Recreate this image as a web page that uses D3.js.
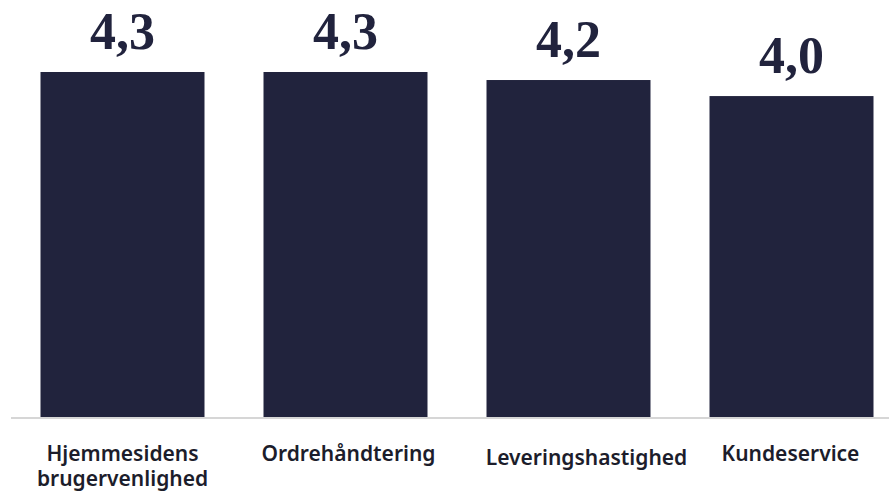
<!DOCTYPE html>
<html lang="da">
<head>
<meta charset="utf-8">
<script src="https://cdn.jsdelivr.net/npm/d3@7"></script>
<style>
  html, body { margin: 0; padding: 0; background: #ffffff; }
  svg { display: block; }
</style>
</head>
<body>
<svg id="chart" width="889" height="495"></svg>
<script>
// Gennemsnitlig vurdering pr. område
const categories = [
  ["Hjemmesidens", "brugervenlighed"],
  ["Ordrehåndtering"],
  ["Leveringshastighed"],
  ["Kundeservice"]
];
const values = [4.3, 4.3, 4.2, 4.0];
const valueLabels = ["4,3", "4,3", "4,2", "4,0"];

const barColor = "#21233d";
const svg = d3.select("#chart");

const idx = d3.range(values.length);
const x = d3.scaleBand()
  .domain(idx)
  .range([11, 903])
  .paddingInner(0.2646)
  .paddingOuter(0.1323);

const baseline = 417;
const y = d3.scaleLinear()
  .domain([0, 4.3])
  .range([baseline, 72]);

// Bars
svg.append("g")
  .selectAll("rect")
  .data(idx)
  .join("rect")
  .attr("x", i => x(i))
  .attr("y", i => y(values[i]))
  .attr("width", x.bandwidth())
  .attr("height", i => baseline - y(values[i]))
  .attr("fill", barColor);

// Baseline axis
const axis = svg.append("g")
  .attr("transform", `translate(0,${baseline + 1})`)
  .call(d3.axisBottom(x).tickSize(0).tickFormat(() => ""));
axis.select(".domain")
  .attr("d", "M11,0H889")
  .attr("stroke", "#c8c8c8")
  .attr("stroke-width", 1.6);

// Category labels (small per-label nudges in x and y)
const labelDx = [0, 3, 18, -1];
const labelDy = [0, 0, 4, 0];
const cx = i => x(i) + x.bandwidth() / 2 + labelDx[i];
const cat = svg.append("g")
  .selectAll("text")
  .data(idx)
  .join("text")
  .attr("x", cx)
  .attr("y", i => 461 + labelDy[i])
  .attr("text-anchor", "middle")
  .attr("font-family", "'Noto Sans', 'Open Sans', sans-serif")
  .attr("font-weight", 600)
  .attr("font-size", 21)
  .attr("fill", "#1c1d2b");
cat.selectAll("tspan")
  .data(i => categories[i].map((t, k) => ({ t, k, i })))
  .join("tspan")
  .attr("x", d => cx(d.i))
  .attr("dy", d => d.k === 0 ? 0 : 25)
  .text(d => d.t);

// Value labels above bars
svg.append("g")
  .selectAll("text")
  .data(idx)
  .join("text")
  .attr("x", i => x(i) + x.bandwidth() / 2)
  .attr("y", i => y(values[i]) - 23)
  .attr("text-anchor", "middle")
  .attr("font-family", "'Liberation Serif', 'DejaVu Serif', serif")
  .attr("font-weight", 700)
  .attr("font-size", 52)
  .attr("fill", barColor)
  .text(i => valueLabels[i]);
</script>
</body>
</html>
